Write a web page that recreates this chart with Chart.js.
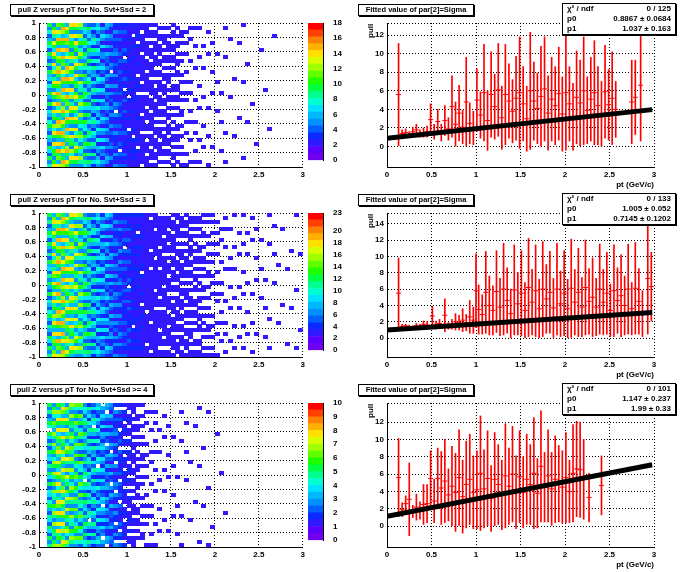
<!DOCTYPE html>
<html>
<head>
<meta charset="utf-8">
<script src="https://cdn.jsdelivr.net/npm/chart.js@4.4.1/dist/chart.umd.min.js"></script>
<style>
  body { margin: 0; background: #fff; font-family: "Liberation Sans", Arial, sans-serif; }
  #wrap { position: relative; width: 696px; height: 572px; overflow: hidden; }
  canvas { position: absolute; }
  .title { position: absolute; border: 1px solid #000; background: #fff; font: bold 7.5px "Liberation Sans", Arial; text-align: center; line-height: 10px; height: 10px; box-shadow: 1px 1px 0 #000; }
  .stats { position: absolute; border: 1px solid #000; background: #fff; font: bold 8px "Liberation Sans", Arial; box-shadow: 1px 1px 0 #000; padding: 0 4px; box-sizing: border-box; }
  .stats div { display: flex; justify-content: space-between; height: 10px; line-height: 10px; }
  .ylab { position: absolute; font: bold 8px "Liberation Sans", Arial; transform: rotate(-90deg); transform-origin: left top; }
</style>
</head>
<body>
<div id="wrap"></div>
<script>
// ROOT-style palette, 20 levels
var PALETTE = ['#7000f0','#5a00ff','#3018ff','#0a2aff','#0060ff','#0090ff','#00b8ff','#00e0ff','#00ffd0','#00ff90',
               '#00ff40','#20ff00','#60ff00','#a0ff00','#d8ff00','#ffe000','#ffb000','#ff8000','#ff4000','#ff0000'];

// 2D histograms: mean counts per pT column (0.05 wide, 0..3), row texture
var colMean1 = [0,0,6,9,10,10,10,9,9,8,7,6,5.5,5,4.5,4,3.5,3,2.8,2.5,2.2,2,1.8,1.5,1.3,1.2,1.1,1,0.95,0.9,
                0.85,0.8,0.7,0.6,0.55,0.5,0.45,0.4,0.36,0.33,0.3,0.28,0.26,0.24,0.22,0.2,0.19,0.18,0.17,0.16,
                0.16,0.15,0.15,0.15,0.14,0.14,0.13,0.13,0.12,0.12];
var colMean2 = [0,0,8,12,13,13,12,12,11,10,9,8,7,6.5,6,5.5,5,4.5,4,3.6,3.3,3,2.7,2.4,2.1,1.9,1.7,1.5,1.4,1.3,
                1.2,1.1,1.0,0.95,0.9,0.85,0.8,0.75,0.7,0.65,0.6,0.55,0.5,0.48,0.45,0.42,0.4,0.38,0.35,0.33,
                0.3,0.28,0.26,0.25,0.24,0.22,0.21,0.2,0.19,0.18];
var colMean3 = [0,0,3.5,4.5,5,5,4.8,4.5,4.2,4,3.6,3.2,3,2.7,2.5,2.2,2,1.8,1.5,1.2,1.0,0.9,0.8,0.7,0.6,0.55,0.5,0.45,0.4,0.36,
                0.33,0.3,0.28,0.26,0.24,0.22,0.2,0.19,0.18,0.17,0.16,0.15,0.15,0.14,0.14,0.13,0.13,0.12,0.12,0.11,
                0.11,0.1,0.1,0.1,0.1,0.1,0.1,0.1,0.1,0.1];
var rowTexture = [1.2,0.7,1.5,0.4,1.0,2.6,0.8,1.3,0.3,1.1,0.9,4.5,0.6,1.4,0.5,1.0,1.7,0.2,1.2,3.2,
                  0.9,0.6,1.3,0.8,1.6,0.4,1.1,5.5,0.7,1.0,1.4,0.5,0.9,2.2,1.2,0.6,1.0];
var zMax = [18, 23, 10];
var zStep = [2, 2, 1];
var titles2d = ['pull Z versus pT for No. Svt+Ssd = 2', 'pull Z versus pT for No. Svt+Ssd = 3', 'pull Z versus pT for No.Svt+Ssd >= 4'];

// Fitted sigma profiles
var pt1 = [0.13,0.17,0.21,0.25,0.29,0.33,0.37,0.41,0.45,0.49,0.53,0.57,0.61,0.65,0.69,0.73,0.77,0.81,0.85,0.89,0.93,0.97,1.01,1.05,1.09,1.13,1.17,1.21,1.25,1.29,1.33,1.37,1.41,1.45,1.49,1.53,1.57,1.61,1.65,1.69,1.73,1.77,1.81,1.85,1.89,1.93,1.97,2.01,2.05,2.09,2.13,2.17,2.21,2.25,2.29,2.33,2.37,2.41,2.45,2.49,2.53,2.57,2.75,2.79,2.85];
var sig1 = [5.6,1.4,1.5,1.3,1.6,1.8,1.4,1.5,1.6,2.9,1.6,2.7,1.5,2.8,1.9,4.3,2.4,3.6,2.1,4.8,2.5,2.0,5.0,3.4,5.8,2.8,5.6,4.3,6.1,3.1,5.6,4.9,3.8,5.2,5.8,4.6,3.0,6.0,4.9,4.1,5.4,6.2,3.6,5.1,4.4,5.7,3.5,5.8,4.6,3.2,5.3,4.7,6.0,3.9,5.1,5.8,4.4,3.5,5.9,4.5,5.2,4.0,4.8,5.3,6.6];
var err1 = [5.5,0.4,0.4,0.3,0.5,0.6,0.4,0.5,0.6,1.7,0.8,1.3,0.9,1.6,1.2,3.3,2.4,3.0,1.8,4.8,2.2,1.8,3.4,2.5,5.2,3.2,4.6,3.5,5.0,3.4,5.4,4.0,3.4,4.5,6.0,4.0,3.5,6.3,4.2,3.8,5.4,5.6,4.0,4.5,4.2,5.0,4.0,6.2,4.0,3.6,5.0,4.6,5.8,3.6,4.5,5.6,4.2,3.5,5.0,3.8,5.0,3.0,4.5,4.0,6.0];
var pt2 = [0.13,0.17,0.21,0.25,0.29,0.33,0.37,0.41,0.45,0.51,0.55,0.59,0.65,0.69,0.73,0.77,0.81,0.85,0.89,0.93,0.97,1.0,1.03,1.07,1.11,1.15,1.19,1.23,1.27,1.31,1.35,1.39,1.43,1.47,1.51,1.55,1.59,1.63,1.67,1.71,1.75,1.79,1.83,1.87,1.91,1.95,1.99,2.03,2.07,2.11,2.15,2.19,2.23,2.27,2.31,2.35,2.39,2.43,2.47,2.51,2.55,2.59,2.63,2.67,2.71,2.75,2.79,2.83,2.87,2.93,2.97];
var sig2 = [5.5,1.4,1.5,1.4,1.3,1.5,1.4,1.7,1.6,2.7,1.6,1.8,2.8,1.5,1.7,2.0,1.9,2.2,1.9,2.6,2.2,5.8,3.5,2.9,5.6,4.0,3.4,5.7,3.8,6.0,4.6,3.0,5.9,4.2,5.5,3.4,6.2,4.4,5.8,3.6,6.0,4.8,5.6,3.7,6.0,4.2,5.5,3.6,6.1,4.4,5.6,3.8,6.2,4.5,5.0,3.8,6.0,4.4,5.5,3.4,5.8,4.6,5.2,4.0,6.0,3.6,6.1,4.5,3.0,7.3,6.3];
var err2 = [4.3,0.3,0.2,0.2,0.2,0.3,0.3,0.4,0.4,1.2,0.5,0.5,2.0,0.4,0.6,1.0,0.9,1.4,1.0,2.0,1.6,4.5,3.0,2.4,5.0,3.6,3.0,5.0,3.5,5.6,4.0,3.0,5.5,3.8,5.2,3.4,6.0,4.0,5.6,3.6,5.8,4.2,5.0,3.6,5.6,4.0,5.2,3.6,6.0,4.0,5.4,3.6,5.8,4.0,4.8,3.5,5.5,4.0,5.0,3.2,5.6,4.0,5.0,3.6,5.5,3.2,5.6,4.0,2.8,6.8,4.2];
var pt3 = [0.13,0.17,0.21,0.25,0.29,0.33,0.37,0.41,0.45,0.49,0.53,0.57,0.61,0.65,0.69,0.73,0.77,0.81,0.85,0.89,0.93,0.97,1.01,1.05,1.09,1.13,1.17,1.21,1.25,1.29,1.33,1.37,1.41,1.45,1.49,1.53,1.57,1.61,1.65,1.69,1.73,1.77,1.81,1.85,1.89,1.93,1.97,2.01,2.05,2.09,2.13,2.17,2.21,2.27,2.41];
var sig3 = [5.6,1.9,2.6,3.1,1.7,2.2,1.8,2.5,2.6,5.5,2.9,5.5,4.4,5.2,3.6,4.6,3.9,5.6,3.4,4.8,5.4,3.9,4.2,6.1,4.3,5.5,3.2,5.4,4.8,3.6,5.8,4.6,6.0,3.9,5.7,3.9,5.4,4.8,6.1,3.8,6.9,4.5,5.8,4.3,5.4,4.9,4.5,5.6,4.0,6.1,6.6,6.5,5.4,3.3,4.7];
var err3 = [4.5,0.8,0.9,4.2,0.7,1.5,1.0,2.3,2.2,3.2,2.5,3.5,4.2,4.8,3.0,4.6,4.5,5.5,4.2,5.0,5.2,4.2,4.5,6.6,4.5,5.5,3.8,5.4,4.6,4.0,6.0,4.4,5.5,4.2,5.3,4.1,5.2,4.6,6.4,4.0,6.4,4.0,5.3,4.2,5.0,4.4,4.2,5.2,3.6,5.6,5.5,5.5,4.6,2.8,3.4];
var fitP0 = [0.8867, 1.005, 1.147];
var fitP1 = [1.037, 0.7145, 1.99];
var ndf = [125, 133, 101];
var p0Text = ['0.8867 \u00b1 0.0684', '1.005 \u00b1 0.052', '1.147 \u00b1 0.237'];
var p1Text = ['1.037 \u00b1 0.163', '0.7145 \u00b1 0.1202', '1.99 \u00b1 0.33'];
var yRange = [[-2.2, 13.3], [-2.3, 15.3], [-2.4, 14.2]];

var FONT = { family: 'Liberation Sans', size: 8, weight: 'bold' };
var PANEL_H = 190;
Chart.defaults.animation = false;
Chart.defaults.color = '#000';

var wrap = document.getElementById('wrap');

function addCanvas(left, top, w, h) {
  var c = document.createElement('canvas');
  c.style.left = left + 'px'; c.style.top = top + 'px';
  c.style.width = w + 'px'; c.style.height = h + 'px';
  c.width = w; c.height = h;
  wrap.appendChild(c);
  return c;
}

function addDiv(cls, left, top, w, html, h) {
  var d = document.createElement('div');
  d.className = cls;
  d.style.left = left + 'px'; d.style.top = top + 'px';
  if (w) d.style.width = w + 'px';
  if (h) d.style.height = h + 'px';
  d.innerHTML = html;
  wrap.appendChild(d);
}

// solid colour cell images for the heat map
var swatches = PALETTE.map(function(col) {
  var s = document.createElement('canvas');
  s.width = 5; s.height = 4;
  var g = s.getContext('2d');
  g.fillStyle = col; g.fillRect(0, 0, 5, 4);
  return s;
});

function fmt(v) { return String(Number(v.toFixed(1))); }

function axisBase(min, max, step, size, isY) {
  return {
    type: 'linear', min: min, max: max, offset: false,
    ticks: { stepSize: step, font: FONT, padding: 3, callback: fmt, autoSkip: false, maxRotation: 0 },
    grid: { color: '#000', drawTicks: false, lineWidth: 1, offset: false },
    border: { display: true, color: '#000', dash: [1, 2] },
    afterFit: function(s) { if (isY) s.width = size; else s.height = size; }
  };
}

function heatPanel(k, colMean) {
  var top = k * PANEL_H;
  var cells = [];
  for (var i = 0; i < 60; i++) {
    for (var j = 0; j < 40; j++) {
      var t = rowTexture[(j + 11 * i) % rowTexture.length];
      if (colMean[i] * t < 0.8) continue;
      // presence from full texture, colour from damped texture
      var v = colMean[i] * Math.min(1.5, Math.max(0.6, t));
      var lvl = Math.min(19, Math.max(2, Math.floor(v * 20 / zMax[k])));
      cells.push({ x: (i + 0.5) * 0.05, y: -1 + (j + 0.5) * 0.05, c: lvl });
    }
  }
  var cv = addCanvas(0, top, 308, PANEL_H);
  new Chart(cv, {
    type: 'scatter',
    data: { datasets: [{ data: cells, pointRadius: 2, pointStyle: function(ctx) { return swatches[ctx.raw ? ctx.raw.c : 0]; } }] },
    options: {
      responsive: false, events: [],
      layout: { padding: { top: 23, right: 2 } },
      plugins: { legend: { display: false }, tooltip: { enabled: false } },
      scales: {
        x: axisBase(0, 3, 0.5, 23, false),
        y: axisBase(-1, 1, 0.2, 39, true)
      }
    }
  });
  // colour bar
  var cb = addCanvas(306, top, 42, PANEL_H - 23);
  var bands = PALETTE.map(function(col) {
    return { data: [zMax[k] / 20], backgroundColor: col, barPercentage: 1, categoryPercentage: 1 };
  });
  new Chart(cb, {
    type: 'bar',
    data: { labels: [''], datasets: bands },
    options: {
      responsive: false, events: [],
      layout: { padding: { top: 23, bottom: 0, left: 2 } },
      plugins: { legend: { display: false }, tooltip: { enabled: false } },
      scales: {
        x: { stacked: true, display: false },
        y: {
          stacked: true, position: 'right', min: 0, max: zMax[k],
          ticks: { stepSize: zStep[k], font: FONT, padding: 2 },
          grid: { display: false }, border: { display: true, color: '#000' },
          afterFit: function(s) { s.width = 25; }
        }
      }
    }
  });
  addDiv('title', 10, top + 4, 142, titles2d[k]);
}

function profilePanel(k, pts, sig, err) {
  var top = k * PANEL_H;
  var bars = pts.map(function(x, i) { return { x: x, y: [sig[i] - err[i], sig[i] + err[i]] }; });
  var marks = pts.map(function(x, i) { return { x: x, y: sig[i] }; });
  var fit = [0, 2.98].map(function(x) { return { x: x, y: fitP0[k] + fitP1[k] * x }; });
  var cv = addCanvas(348, top, 348, PANEL_H);
  var xs = axisBase(0, 3, 0.5, 23, false);
  xs.title = { display: true, text: 'pt (GeV/c)', align: 'end', font: FONT, padding: 0 };
  var ys = axisBase(yRange[k][0], yRange[k][1], 2, 39, true);
  ys.ticks.callback = function(v) { return Number.isInteger(v) && v % 2 === 0 ? String(v) : ''; };
  new Chart(cv, {
    data: {
      datasets: [
        { type: 'line', data: fit, borderColor: '#000', borderWidth: 5, pointRadius: 0, order: 0 },
        { type: 'scatter', data: marks, pointStyle: 'line', pointRadius: 2.5, borderColor: '#f00', borderWidth: 1, order: 1 },
        { type: 'bar', data: bars, backgroundColor: '#f00', barThickness: 1, maxBarThickness: 1, order: 2 }
      ]
    },
    options: {
      responsive: false, events: [],
      layout: { padding: { top: 23, right: 42 } },
      plugins: { legend: { display: false }, tooltip: { enabled: false } },
      scales: { x: xs, y: ys }
    }
  });
  addDiv('title', 358, top + 4, 114, 'Fitted value of par[2]=Sigma');
  addDiv('ylab', 366, top + 38, 0, 'pull');
  addDiv('stats', 562, top + 3, 114,
    '<div><span>\u03c7\u00b2 / ndf</span><span>0 / ' + ndf[k] + '</span></div>' +
    '<div><span>p0</span><span>' + p0Text[k] + '</span></div>' +
    '<div><span>p1</span><span>' + p1Text[k] + '</span></div>', 32);
}

heatPanel(0, colMean1);
heatPanel(1, colMean2);
heatPanel(2, colMean3);
profilePanel(0, pt1, sig1, err1);
profilePanel(1, pt2, sig2, err2);
profilePanel(2, pt3, sig3, err3);
</script>
</body>
</html>
